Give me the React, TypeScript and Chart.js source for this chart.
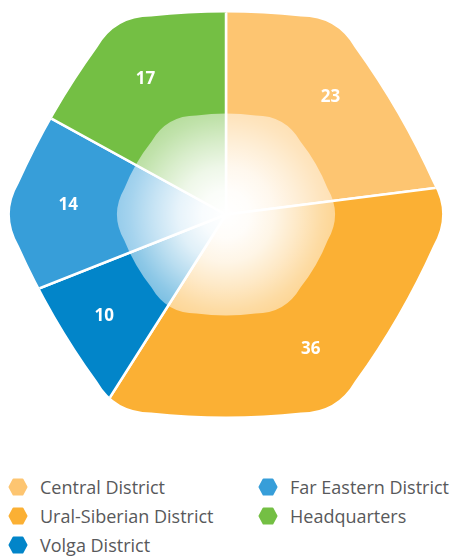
import React, { useEffect, useRef } from "react";
import { Chart, registerables } from "chart.js";

Chart.register(...registerables);

const categories = [
  "Central District",
  "Ural-Siberian District",
  "Volga District",
  "Far Eastern District",
  "Headquarters",
];
const values = [23, 36, 10, 14, 17];
const colors = ["#FDC571", "#FBB034", "#0285C9", "#379ED9", "#74BF44"];
const legendColumns = [
  [0, 1, 2],
  [3, 4],
];

type HexSpec = { aT: number; aS: number; t: number; bulge: number };
const OUTER: HexSpec = { aT: 198, aS: 195, t: 36, bulge: 8 };
const INNER: HexSpec = { aT: 99, aS: 101, t: 30, bulge: 4 };
const LABEL_RADIUS = 158;

function hexPath(ctx: CanvasRenderingContext2D, cx: number, cy: number, s: HexSpec) {
  const c30 = Math.sqrt(3) / 2;
  const R = s.aS / c30;
  const X = (s.aS - 0.5 * s.aT) / c30;
  const V = [
    [R, 0],
    [X, s.aT],
    [-X, s.aT],
    [-R, 0],
    [-X, -s.aT],
    [X, -s.aT],
  ].map(([x, y]) => [cx + x, cy + y]);
  const unit = (a: number[], b: number[]) => {
    const dx = b[0] - a[0];
    const dy = b[1] - a[1];
    const l = Math.hypot(dx, dy);
    return [dx / l, dy / l];
  };
  const pOut = (i: number) => {
    const u = unit(V[i], V[(i + 1) % 6]);
    return [V[i][0] + u[0] * s.t, V[i][1] + u[1] * s.t];
  };
  const pIn = (i: number) => {
    const u = unit(V[i], V[(i + 5) % 6]);
    return [V[i][0] + u[0] * s.t, V[i][1] + u[1] * s.t];
  };
  ctx.beginPath();
  const start = pOut(0);
  ctx.moveTo(start[0], start[1]);
  for (let i = 0; i < 6; i++) {
    const n = (i + 1) % 6;
    const d = unit(V[i], V[n]);
    const nx = d[1];
    const ny = -d[0];
    const mx = (V[i][0] + V[n][0]) / 2 + nx * s.bulge;
    const my = (V[i][1] + V[n][1]) / 2 + ny * s.bulge;
    const e = pIn(n);
    ctx.quadraticCurveTo(mx, my, e[0], e[1]);
    const o = pOut(n);
    ctx.quadraticCurveTo(V[n][0], V[n][1], o[0], o[1]);
  }
  ctx.closePath();
}

const hexPlugin = {
  id: "hexShape",
  beforeDatasetsDraw(chart: any) {
    const arc = chart.getDatasetMeta(0).data[0];
    const ctx = chart.ctx as CanvasRenderingContext2D;
    ctx.save();
    hexPath(ctx, arc.x, arc.y, OUTER);
    ctx.clip();
  },
  afterDatasetsDraw(chart: any) {
    const ctx = chart.ctx as CanvasRenderingContext2D;
    ctx.restore();
    const meta = chart.getDatasetMeta(0);
    const cx = meta.data[0].x;
    const cy = meta.data[0].y;
    ctx.save();
    hexPath(ctx, cx, cy, INNER);
    const g = ctx.createRadialGradient(cx, cy, 0, cx, cy, 120);
    g.addColorStop(0, "rgba(255,255,255,1)");
    g.addColorStop(0.2, "rgba(255,255,255,0.97)");
    g.addColorStop(0.4, "rgba(255,255,255,0.88)");
    g.addColorStop(0.6, "rgba(255,255,255,0.72)");
    g.addColorStop(0.8, "rgba(255,255,255,0.55)");
    g.addColorStop(1, "rgba(255,255,255,0.42)");
    ctx.fillStyle = g;
    ctx.fill();
    ctx.restore();

    ctx.save();
    ctx.fillStyle = "#ffffff";
    ctx.font = "bold 17px 'Open Sans'";
    ctx.textAlign = "center";
    ctx.textBaseline = "middle";
    meta.data.forEach((el: any, i: number) => {
      const mid = (el.startAngle + el.endAngle) / 2;
      const x = cx + Math.cos(mid) * LABEL_RADIUS;
      const y = cy + Math.sin(mid) * LABEL_RADIUS;
      ctx.fillText(String(chart.data.datasets[0].data[i]), x, y + 1);
    });
    ctx.restore();
  },
};

function HexMarker({ color }: { color: string }) {
  return (
    <svg width="20" height="18" viewBox="0 0 20 18" style={{ display: "block" }}>
      <polygon
        points="5.5,1.5 14.5,1.5 18.5,9 14.5,16.5 5.5,16.5 1.5,9"
        fill={color}
        stroke={color}
        strokeWidth="2"
        strokeLinejoin="round"
      />
    </svg>
  );
}

export default function App() {
  const canvasRef = useRef<HTMLCanvasElement | null>(null);

  useEffect(() => {
    if (!canvasRef.current) return;
    const chart = new Chart(canvasRef.current, {
      type: "pie",
      data: {
        labels: categories,
        datasets: [
          {
            data: values,
            backgroundColor: colors,
            borderColor: "#ffffff",
            borderWidth: 2.5,
            hoverOffset: 0,
            clip: false,
          } as any,
        ],
      },
      options: {
        responsive: false,
        animation: false,
        radius: 320,
        layout: { padding: { left: 0, right: 3, top: 0, bottom: 11 } },
        plugins: {
          legend: { display: false },
          tooltip: { enabled: false },
        },
      } as any,
      plugins: [hexPlugin],
    });
    return () => chart.destroy();
  }, []);

  const colLeft = [8, 258];
  const rowCenters = [486.5, 515.5, 544.5];

  return (
    <div style={{ position: "absolute", left: 0, top: 0, width: 455, height: 560, background: "#ffffff" }}>
      <canvas ref={canvasRef} width={455} height={440} style={{ position: "absolute", left: 0, top: 0 }} />
      {legendColumns.map((col, ci) =>
        col.map((idx, ri) => (
          <div
            key={idx}
            style={{
              position: "absolute",
              left: colLeft[ci],
              top: rowCenters[ri] - 12,
              height: 24,
              display: "flex",
              alignItems: "center",
              whiteSpace: "nowrap",
            }}
          >
            <HexMarker color={colors[idx]} />
            <span
              style={{
                marginLeft: 12,
                fontFamily: "'Open Sans', sans-serif",
                fontSize: 18,
                lineHeight: "24px",
                color: "#58595B",
              }}
            >
              {categories[idx]}
            </span>
          </div>
        ))
      )}
    </div>
  );
}
